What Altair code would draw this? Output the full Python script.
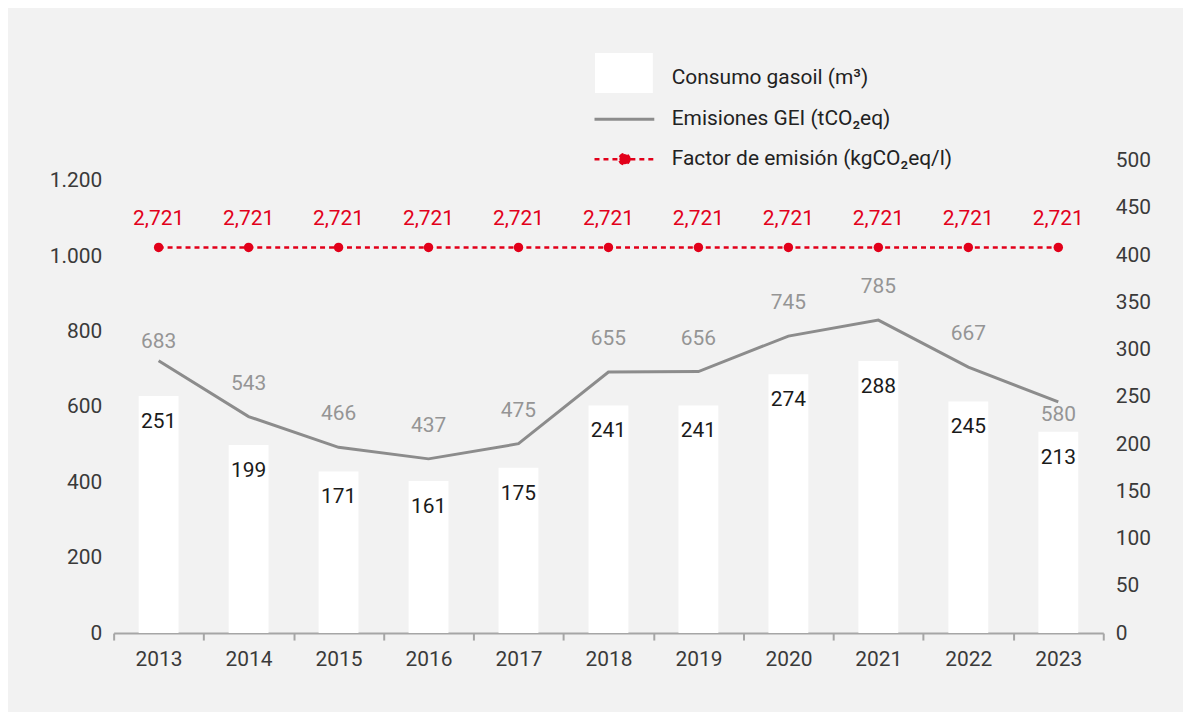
import math
import altair as alt
import pandas as pd

years = ["2013", "2014", "2015", "2016", "2017", "2018", "2019", "2020", "2021", "2022", "2023"]
consumo = [251, 199, 171, 161, 175, 241, 241, 274, 288, 245, 213]
emisiones = [683, 543, 466, 437, 475, 655, 656, 745, 785, 667, 580]
factor = [2.721, 2.721, 2.721, 2.721, 2.721, 2.721, 2.721, 2.721, 2.721, 2.721, 2.721]
left_ticks = [0, 200, 400, 600, 800, 1000, 1200]
right_ticks = [0, 50, 100, 150, 200, 250, 300, 350, 400, 450, 500]

S1 = "Consumo gasoil (m³)"
S2 = "Emisiones GEI (tCO₂eq)"
S3 = "Factor de emisión (kgCO₂eq/l)"

df = pd.DataFrame({
    "year": years,
    "consumo": consumo,
    "emisiones": emisiones,
    "factor": factor,
    "s1": S1,
    "s2": S2,
    "s3": S3,
})

FONT = "Roboto"
FS = 21
RED = "#e2001a"
GRAY = "#8c8c8c"
GRAY_TXT = "#959595"
AX_TXT = "#3a3a3a"

# legend symbol: dashed line with a dot in the middle (dot as a 16-gon)
_r = 0.17
_pts = [(_r * math.cos(2 * math.pi * k / 16), _r * math.sin(2 * math.pi * k / 16)) for k in range(16)]
DOT_PATH = "M-1,0H1M" + "L".join(f"{px:.3f},{py:.3f}" for px, py in _pts) + "Z"

x_enc = alt.X(
    "year:N",
    sort=years,
    scale=alt.Scale(paddingInner=0, paddingOuter=0),
    axis=alt.Axis(
        title=None, labelAngle=0, tickBand="extent", domainColor="#a6a6a6",
        domainWidth=2, tickColor="#a6a6a6", tickWidth=2, tickSize=7,
        labelFontSize=FS, labelColor=AX_TXT, labelFont=FONT, labelPadding=9,
        grid=False,
    ),
)

# phantom layer carrying the left axis
left = alt.Chart(df).mark_point(opacity=0).encode(
    x=x_enc,
    y=alt.Y(
        "emisiones:Q",
        scale=alt.Scale(domain=[0, 1253], nice=False, zero=True),
        axis=alt.Axis(
            orient="left", values=left_ticks, title=None, domain=False, ticks=False,
            grid=False, labelFontSize=FS, labelColor=AX_TXT, labelFont=FONT,
            labelPadding=12,
            labelExpr="replace(format(datum.value, ','), ',', '.')",
        ),
    ),
)

bar_base = alt.Chart(df).encode(
    x=x_enc,
    y=alt.Y(
        "consumo:Q",
        scale=alt.Scale(domain=[0, 500], nice=False, zero=True),
        axis=alt.Axis(
            orient="right", values=right_ticks, title=None, domain=False, ticks=False,
            grid=False, labelFontSize=FS, labelColor=AX_TXT, labelFont=FONT,
            labelPadding=12, labelAlign="left",
        ),
    ),
)
bars = bar_base.mark_bar(width=40).encode(
    fill=alt.Fill(
        "s1:N",
        scale=alt.Scale(range=["white"]),
        legend=alt.Legend(
            title=None, orient="none", legendX=483, legendY=-112,
            symbolType="M-1,-0.86H1V0.52H-1Z", symbolSize=3364, symbolStrokeWidth=0,
            labelFontSize=FS, labelFont=FONT, labelColor="#222222", labelOffset=19,
            labelLimit=500,
        ),
    )
)
bar_text = bar_base.mark_text(dy=26, fontSize=FS, font=FONT, color="#1a1a1a").encode(
    text="consumo:Q"
)
bar_layer = alt.layer(bars, bar_text)

line_base = alt.Chart(df).encode(
    x=x_enc,
    y=alt.Y("emisiones:Q", scale=alt.Scale(domain=[0, 1185], nice=False, zero=True), axis=None),
)
line = line_base.mark_line(strokeWidth=3).encode(
    stroke=alt.Stroke(
        "s2:N",
        scale=alt.Scale(range=[GRAY]),
        legend=alt.Legend(
            title=None, orient="none", legendX=481, legendY=-73,
            symbolType="stroke", symbolSize=3600, symbolStrokeWidth=3,
            labelFontSize=FS, labelFont=FONT, labelColor="#222222", labelOffset=16,
            labelLimit=500,
        ),
    )
)
line_text = line_base.mark_text(dy=-33, fontSize=FS, font=FONT, color=GRAY_TXT).encode(
    text="emisiones:Q"
).transform_filter("datum.year != '2013' && datum.year != '2023'")
line_text_first = line_base.mark_text(dy=-19, fontSize=FS, font=FONT, color=GRAY_TXT).encode(
    text="emisiones:Q"
).transform_filter("datum.year == '2013'")
line_text_last = line_base.mark_text(dy=13, fontSize=FS, font=FONT, color=GRAY_TXT).encode(
    text="emisiones:Q"
).transform_filter("datum.year == '2023'")
line_layer = alt.layer(line, line_text, line_text_first, line_text_last)

fac_base = alt.Chart(df).encode(
    x=x_enc,
    y=alt.Y("factor:Q", scale=alt.Scale(domain=[0, 3.333], nice=False, zero=True), axis=None),
)
fac_line = fac_base.mark_line(strokeWidth=2.5, color=RED).encode(
    strokeDash=alt.StrokeDash(
        "s3:N",
        scale=alt.Scale(range=[[5, 4]]),
        legend=alt.Legend(
            title=None, orient="none", legendX=481, legendY=-33,
            symbolType=DOT_PATH,
            symbolSize=3600, symbolStrokeWidth=2.5, symbolStrokeColor=RED,
            symbolFillColor=RED,
            labelFontSize=FS, labelFont=FONT, labelColor="#222222", labelOffset=16,
            labelLimit=500,
        ),
    )
)
fac_pts = fac_base.mark_circle(size=90, color=RED, opacity=1)
fac_text = fac_base.mark_text(dy=-28, fontSize=FS, font=FONT, color=RED).encode(
    text="flabel:N"
).transform_calculate(flabel="replace(format(datum.factor, '.3f'), '.', ',')")
fac_layer = alt.layer(fac_line, fac_pts, fac_text)

chart = alt.layer(left, bar_layer, line_layer, fac_layer).resolve_scale(
    y="independent"
).properties(
    width=993,
    height=474,
    background="#f2f2f2",
    padding={"left": 106, "top": 152, "right": 80, "bottom": 78},
    autosize=alt.AutoSizeParams(type="none"),
).configure_view(stroke=None)

chart.save("out.html", embed_options={"renderer": "svg", "actions": False})
